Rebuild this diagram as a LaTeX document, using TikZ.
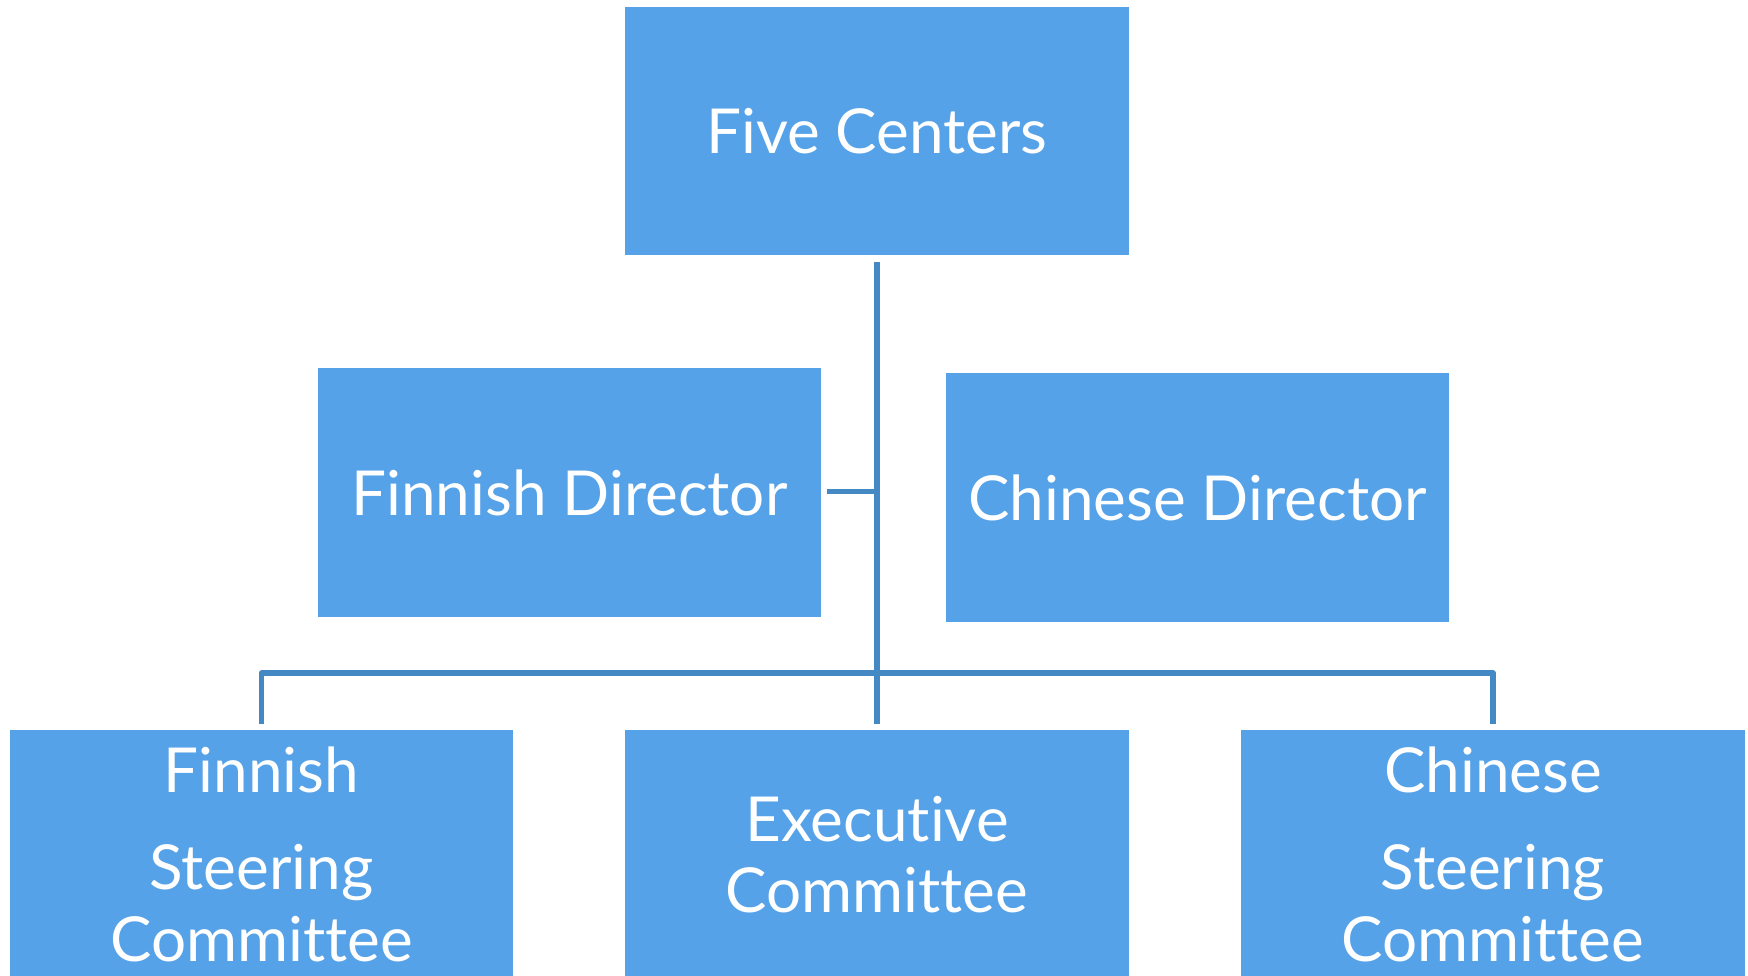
\documentclass[tikz,border=0pt]{standalone}
\usepackage{fontspec}
\setmainfont{Lato}[Ligatures={NoCommon,NoRequired,NoContextual,NoDiscretionary}]
\definecolor{boxblue}{RGB}{85,162,233}
\definecolor{lineblue}{RGB}{68,136,196}
\begin{document}
\begin{tikzpicture}[x=1pt,y=1pt,
  orgbox/.style={fill=boxblue, draw=none, inner sep=0pt, text=white,
    font=\fontsize{62}{70}\selectfont},
  txt/.style={text=white, inner sep=0pt, anchor=base, font=\fontsize{62}{70}\selectfont},
  conn/.style={draw=lineblue, line width=5.5pt}]
\useasboundingbox (0,0) rectangle (1748,976);
\clip (0,0) rectangle (1748,976);
\fill[white] (0,0) rectangle (1748,976);
% top
\node[orgbox, minimum width=504pt, minimum height=248pt] (fc) at (877,845) {\raisebox{-2pt}{Five Centers}};
\node[orgbox, minimum width=503pt, minimum height=249pt] (fd) at (569.5,483.5) {\raisebox{-2pt}{Finnish Director}};
\node[orgbox, minimum width=503pt, minimum height=249pt] (cd) at (1197.5,478) {\raisebox{-2pt}{Chinese Director}};
% bottom boxes (extend below the page)
\node[orgbox, minimum width=503pt, minimum height=306pt, anchor=north] (fsc) at (261.5,246) {};
\node[orgbox, minimum width=504pt, minimum height=306pt, anchor=north] (ec) at (877,246) {};
\node[orgbox, minimum width=504pt, minimum height=306pt, anchor=north] (csc) at (1493,246) {};
% texts of bottom boxes
\node[txt] (fsc1) at (261.5,183.5) {Finnish};
\node[txt] (fsc2) at (261.5,86) {Steering};
\node[txt] (fsc3) at (261.5,14) {Committee};
\node[txt] (ec1) at (877,134) {Executive};
\node[txt] (ec2) at (877,63) {Committee};
\node[txt] (csc1) at (1493,183.5) {Chinese};
\node[txt] (csc2) at (1493,86) {Steering};
\node[txt] (csc3) at (1493,14) {Committee};
% connectors
\coordinate (bar) at (877,303);
\draw[conn] ([yshift=-7pt]fc.south) -- ([yshift=6pt]ec.north);
\draw[conn, line join=round] ([yshift=6pt]fsc.north) |- (bar) -| ([yshift=6pt]csc.north);
\draw[conn] ([xshift=6pt,yshift=1pt]fd.east) -- ([yshift=1pt]fd.east -| fc.south);
\end{tikzpicture}
\end{document}
